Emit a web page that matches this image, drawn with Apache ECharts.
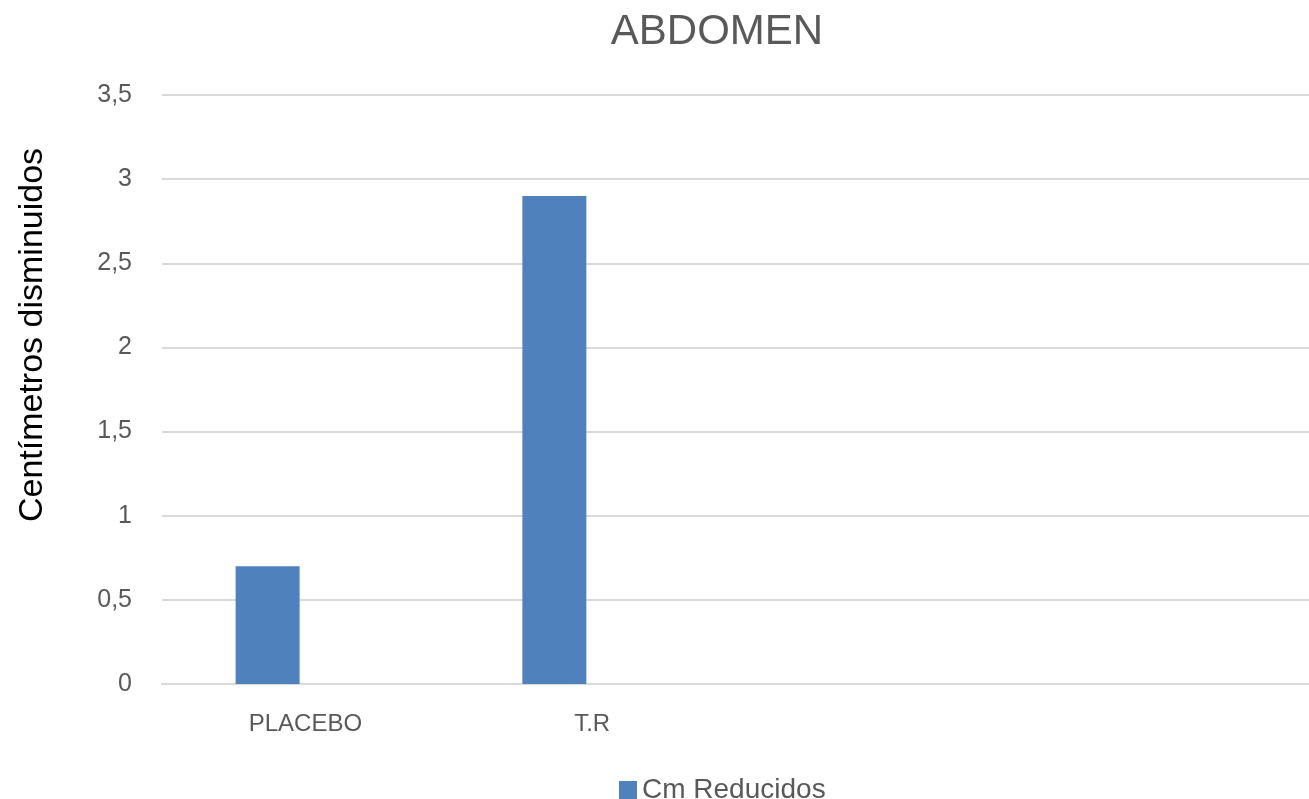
<!DOCTYPE html>
<html>
<head>
<meta charset="utf-8">
<script src="https://cdn.jsdelivr.net/npm/echarts@6/dist/echarts.min.js"></script>
<style>html,body{margin:0;padding:0;background:#fff}#c{width:1309px;height:799px}</style>
</head>
<body>
<div id="c"></div>
<script>
const categories = ['PLACEBO', 'T.R', '', ''];
const seriesName = 'Cm Reducidos';
const yAxisTitle = 'Centímetros disminuidos';
const cmReducidos = [0.7, 2.9, null, null];
const emptySeries = [null, null, null, null];
const yTicks = [0, 0.5, 1, 1.5, 2, 2.5, 3, 3.5];

const font = 'Liberation Sans';
const chart = echarts.init(document.getElementById('c'));
chart.setOption({
  animation: false,
  title: {
    text: 'ABDOMEN', left: 712, top: 6, textAlign: 'center',
    textStyle: { fontFamily: font, fontSize: 42, fontWeight: 'normal', color: '#595959' }
  },
  legend: {
    data: [seriesName], top: 771, left: 614, itemWidth: 18, itemHeight: 18, icon: 'rect', itemGap: 6,
    textStyle: { fontFamily: font, fontSize: 28, color: '#595959' }
  },
  graphic: [{
    type: 'text', x: 33, y: 335, rotation: Math.PI / 2,
    style: { text: yAxisTitle, fontFamily: font, fontSize: 34, fill: '#000', align: 'center', verticalAlign: 'middle' }
  }],
  grid: { left: 162, right: 0, top: 95, bottom: 115 },
  xAxis: {
    type: 'category', data: categories,
    axisLine: { lineStyle: { color: '#d9d9d9', width: 2 } },
    axisTick: { show: false },
    axisLabel: { fontFamily: font, fontSize: 24, color: '#595959', margin: 28 }
  },
  yAxis: {
    type: 'value', min: 0, max: 3.5, interval: 0.5,
    axisLine: { show: false }, axisTick: { show: false },
    splitLine: { lineStyle: { color: '#d9d9d9', width: 2 } },
    axisLabel: {
      fontFamily: font, fontSize: 25, color: '#595959', margin: 30,
      formatter: v => yTicks.includes(v) ? String(v).replace('.', ',') : ''
    }
  },
  series: [
    { name: seriesName, type: 'bar', data: cmReducidos, barWidth: 64, barGap: '18%',
      itemStyle: { color: '#4f81bd' } },
    { name: 'empty', type: 'bar', data: emptySeries, barWidth: 64 }
  ]
});
</script>
</body>
</html>
